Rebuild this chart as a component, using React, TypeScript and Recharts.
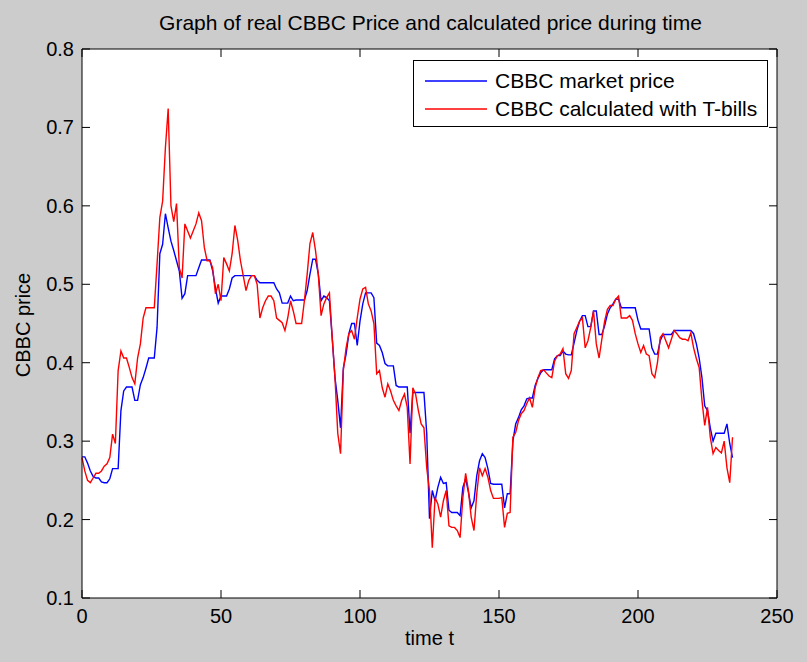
import React from "react";
import {
  LineChart,
  Line,
  XAxis,
  YAxis,
  CartesianGrid,
  Legend,
} from "recharts";

// CBBC market price (blue), one value per time step t = 0..234
const marketPrice = [
  0.280, 0.280, 0.272, 0.262, 0.255, 0.253, 0.253, 0.248, 0.247, 0.247,
  0.252, 0.265, 0.265, 0.265, 0.339, 0.364, 0.369, 0.369, 0.369, 0.352,
  0.352, 0.372, 0.381, 0.393, 0.406, 0.406, 0.406, 0.445, 0.539, 0.551,
  0.590, 0.572, 0.555, 0.543, 0.530, 0.517, 0.482, 0.488, 0.511, 0.511,
  0.511, 0.511, 0.521, 0.531, 0.531, 0.531, 0.531, 0.517, 0.495, 0.476,
  0.485, 0.485, 0.485, 0.494, 0.508, 0.511, 0.511, 0.511, 0.511, 0.511,
  0.511, 0.511, 0.511, 0.505, 0.502, 0.502, 0.502, 0.502, 0.502, 0.502,
  0.494, 0.489, 0.476, 0.476, 0.476, 0.485, 0.479, 0.480, 0.480, 0.480,
  0.480, 0.492, 0.513, 0.532, 0.532, 0.513, 0.479, 0.485, 0.483, 0.479,
  0.432, 0.381, 0.352, 0.317, 0.393, 0.411, 0.437, 0.450, 0.450, 0.422,
  0.453, 0.475, 0.489, 0.489, 0.489, 0.483, 0.425, 0.422, 0.413, 0.399,
  0.396, 0.396, 0.396, 0.371, 0.369, 0.369, 0.369, 0.369, 0.310, 0.362,
  0.362, 0.362, 0.362, 0.362, 0.310, 0.201, 0.237, 0.224, 0.241, 0.254,
  0.246, 0.247, 0.212, 0.209, 0.209, 0.209, 0.205, 0.241, 0.252, 0.235,
  0.215, 0.224, 0.256, 0.275, 0.284, 0.279, 0.265, 0.246, 0.245, 0.245,
  0.245, 0.245, 0.215, 0.233, 0.233, 0.300, 0.322, 0.330, 0.340, 0.345,
  0.354, 0.355, 0.355, 0.371, 0.380, 0.387, 0.391, 0.391, 0.391, 0.391,
  0.405, 0.409, 0.409, 0.415, 0.411, 0.410, 0.410, 0.425, 0.441, 0.453,
  0.460, 0.460, 0.446, 0.446, 0.466, 0.466, 0.436, 0.436, 0.447, 0.462,
  0.470, 0.475, 0.481, 0.481, 0.470, 0.470, 0.470, 0.470, 0.470, 0.470,
  0.454, 0.443, 0.443, 0.443, 0.443, 0.419, 0.411, 0.411, 0.428, 0.436,
  0.436, 0.436, 0.436, 0.441, 0.441, 0.441, 0.441, 0.441, 0.441, 0.441,
  0.437, 0.424, 0.406, 0.381, 0.345, 0.339, 0.317, 0.300, 0.310, 0.310,
  0.310, 0.310, 0.322, 0.297, 0.279,
];

// CBBC price calculated with T-bills (red)
const calcPrice = [
  0.279, 0.262, 0.250, 0.247, 0.253, 0.259, 0.259, 0.262, 0.268, 0.271,
  0.279, 0.309, 0.297, 0.390, 0.415, 0.406, 0.406, 0.394, 0.381, 0.373,
  0.406, 0.424, 0.457, 0.470, 0.470, 0.470, 0.470, 0.526, 0.585, 0.606,
  0.674, 0.724, 0.600, 0.580, 0.603, 0.521, 0.508, 0.577, 0.568, 0.559,
  0.568, 0.577, 0.591, 0.581, 0.547, 0.530, 0.530, 0.521, 0.488, 0.500,
  0.479, 0.534, 0.526, 0.517, 0.539, 0.575, 0.556, 0.530, 0.511, 0.492,
  0.505, 0.511, 0.511, 0.500, 0.457, 0.470, 0.479, 0.485, 0.485, 0.479,
  0.457, 0.454, 0.451, 0.441, 0.457, 0.479, 0.466, 0.450, 0.450, 0.450,
  0.479, 0.513, 0.552, 0.566, 0.543, 0.513, 0.460, 0.475, 0.483, 0.489,
  0.432, 0.381, 0.310, 0.284, 0.390, 0.419, 0.437, 0.441, 0.430, 0.457,
  0.481, 0.494, 0.496, 0.475, 0.466, 0.450, 0.386, 0.390, 0.368, 0.356,
  0.373, 0.364, 0.352, 0.345, 0.339, 0.352, 0.360, 0.343, 0.271, 0.368,
  0.360, 0.339, 0.322, 0.317, 0.266, 0.237, 0.164, 0.228, 0.220, 0.203,
  0.224, 0.237, 0.192, 0.190, 0.190, 0.186, 0.177, 0.228, 0.259, 0.237,
  0.203, 0.186, 0.233, 0.266, 0.256, 0.265, 0.254, 0.237, 0.227, 0.227,
  0.227, 0.228, 0.190, 0.208, 0.209, 0.305, 0.311, 0.326, 0.335, 0.339,
  0.348, 0.355, 0.343, 0.368, 0.381, 0.390, 0.391, 0.387, 0.383, 0.381,
  0.402, 0.409, 0.411, 0.418, 0.386, 0.380, 0.390, 0.437, 0.445, 0.453,
  0.457, 0.419, 0.428, 0.445, 0.466, 0.424, 0.406, 0.430, 0.453, 0.468,
  0.473, 0.473, 0.481, 0.485, 0.457, 0.457, 0.457, 0.460, 0.454, 0.437,
  0.424, 0.413, 0.422, 0.411, 0.409, 0.386, 0.381, 0.400, 0.432, 0.437,
  0.428, 0.419, 0.430, 0.441, 0.437, 0.432, 0.430, 0.430, 0.428, 0.438,
  0.419, 0.405, 0.394, 0.352, 0.320, 0.343, 0.305, 0.284, 0.292, 0.288,
  0.285, 0.300, 0.266, 0.247, 0.305,
];

const xTicks = [0, 50, 100, 150, 200, 250];
const yTicks = [0.1, 0.2, 0.3, 0.4, 0.5, 0.6, 0.7, 0.8];

const seriesNames = ["CBBC market price", "CBBC calculated with T-bills"];
const seriesColors = ["#0000ff", "#ff0000"];

const data = marketPrice.map((v, i) => ({
  t: i,
  market: v,
  calc: calcPrice[i],
}));

const FONT = "'Liberation Sans', Arial, sans-serif";

const BottomTick = (props: any) => {
  const { x, y, payload } = props;
  return (
    <g>
      <line x1={x} y1={y} x2={x} y2={y - 8} stroke="#000" />
      <text x={x} y={y + 25} textAnchor="middle" fontSize={20} fontFamily={FONT} fill="#000">
        {payload.value}
      </text>
    </g>
  );
};

const LeftTick = (props: any) => {
  const { x, y, payload } = props;
  return (
    <g>
      <line x1={x} y1={y} x2={x + 8} y2={y} stroke="#000" />
      <text x={x - 8} y={y + 7} textAnchor="end" fontSize={20} fontFamily={FONT} fill="#000">
        {String(payload.value)}
      </text>
    </g>
  );
};

const TopTick = (props: any) => {
  const { x, y } = props;
  return <line x1={x} y1={y} x2={x} y2={y + 8} stroke="#000" />;
};

const RightTick = (props: any) => {
  const { x, y } = props;
  return <line x1={x} y1={y} x2={x - 8} y2={y} stroke="#000" />;
};

const LegendBox = () => (
  <div
    style={{
      width: 355,
      height: 67,
      boxSizing: "border-box",
      border: "1px solid #000",
      background: "#fff",
      fontFamily: FONT,
      fontSize: 21,
      position: "relative",
    }}
  >
    {seriesNames.map((name, i) => (
      <div
        key={name}
        style={{
          position: "absolute",
          left: 11,
          top: 6 + i * 28,
          height: 28,
          display: "flex",
          alignItems: "center",
          whiteSpace: "nowrap",
        }}
      >
        <svg width={62} height={4} style={{ marginRight: 8 }}>
          <line x1={0} y1={2} x2={62} y2={2} stroke={seriesColors[i]} strokeWidth={1.5} />
        </svg>
        <span>{name}</span>
      </div>
    ))}
  </div>
);

export default function App() {
  return (
    <div
      style={{
        position: "absolute",
        left: 0,
        top: 0,
        width: 807,
        height: 662,
        background: "#cccccc",
        fontFamily: FONT,
        overflow: "hidden",
      }}
    >
      <div
        style={{
          position: "absolute",
          left: 0,
          top: 0,
          width: 807,
          textAlign: "center",
          paddingLeft: 54,
          boxSizing: "border-box",
          fontSize: 21,
          lineHeight: "46px",
          color: "#000",
        }}
      >
        Graph of real CBBC Price and calculated price during time
      </div>
      <LineChart
        width={807}
        height={662}
        data={data}
        margin={{ top: 19, right: 0, bottom: 34, left: 22 }}
      >
        <CartesianGrid horizontal={false} vertical={false} fill="#ffffff" />
        <XAxis
          dataKey="t"
          type="number"
          domain={[0, 250]}
          ticks={xTicks}
          interval={0}
          height={30}
          tickSize={0}
          tickMargin={0}
          axisLine={{ stroke: "#000" }}
          tickLine={false}
          tick={<BottomTick />}
        />
        <XAxis
          xAxisId="top"
          orientation="top"
          dataKey="t"
          type="number"
          domain={[0, 250]}
          ticks={xTicks}
          interval={0}
          height={30}
          tickSize={0}
          tickMargin={0}
          axisLine={{ stroke: "#000" }}
          tickLine={false}
          tick={<TopTick />}
        />
        <YAxis
          type="number"
          domain={[0.1, 0.8]}
          ticks={yTicks}
          interval={0}
          allowDataOverflow
          width={60}
          tickSize={0}
          tickMargin={0}
          axisLine={{ stroke: "#000" }}
          tickLine={false}
          tick={<LeftTick />}
        />
        <YAxis
          yAxisId="right"
          orientation="right"
          type="number"
          domain={[0.1, 0.8]}
          ticks={yTicks}
          interval={0}
          allowDataOverflow
          width={30}
          tickSize={0}
          tickMargin={0}
          axisLine={{ stroke: "#000" }}
          tickLine={false}
          tick={<RightTick />}
        />
        <Legend
          verticalAlign="middle"
          content={<LegendBox />}
          wrapperStyle={{ position: "absolute", left: 413, top: 60, width: 355, height: 67 }}
        />
        <Line
          type="linear"
          dataKey="market"
          name={seriesNames[0]}
          stroke={seriesColors[0]}
          strokeWidth={1.4}
          dot={false}
          isAnimationActive={false}
        />
        <Line
          type="linear"
          dataKey="calc"
          name={seriesNames[1]}
          stroke={seriesColors[1]}
          strokeWidth={1.4}
          dot={false}
          isAnimationActive={false}
        />
      </LineChart>
      <div
        style={{
          position: "absolute",
          left: 82,
          width: 695,
          top: 624,
          textAlign: "center",
          fontSize: 20,
          lineHeight: "28px",
          color: "#000",
        }}
      >
        time t
      </div>
      <div
        style={{
          position: "absolute",
          left: 23,
          top: 325,
          transform: "translate(-50%, -50%) rotate(-90deg)",
          fontSize: 20,
          whiteSpace: "nowrap",
          color: "#000",
        }}
      >
        CBBC price
      </div>
    </div>
  );
}
